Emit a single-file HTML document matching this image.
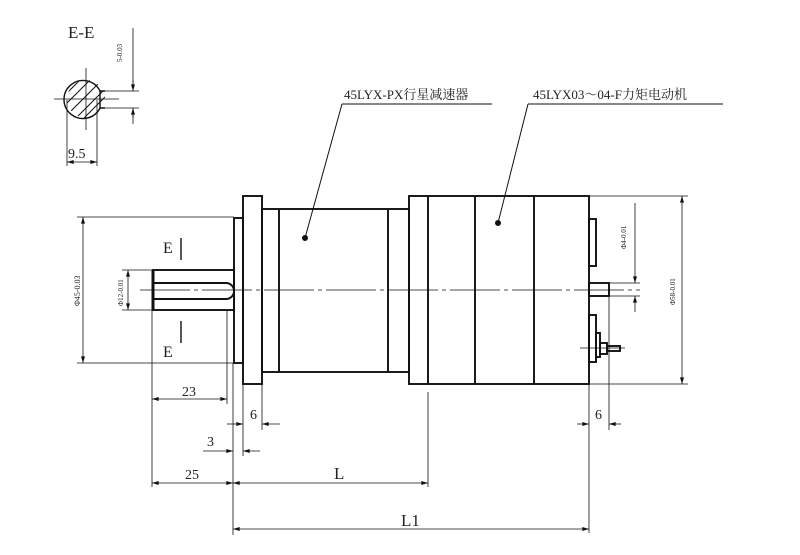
<!DOCTYPE html>
<html><head><meta charset="utf-8"><style>
html,body{margin:0;padding:0;background:#fff;width:800px;height:555px;overflow:hidden}
svg{display:block}
text{font-family:"Liberation Serif","Noto Serif CJK SC","Noto Sans CJK SC",serif;fill:#222}
</style></head><body>
<svg width="800" height="555" viewBox="0 0 800 555" xmlns="http://www.w3.org/2000/svg">
<defs>
<marker id="a" viewBox="0 0 10 6" refX="10" refY="3" markerWidth="8" markerHeight="4" orient="auto-start-reverse" markerUnits="userSpaceOnUse"><path d="M0,0L10,3L0,6z" fill="#111"/></marker>
<clipPath id="cc"><circle cx="86" cy="99" r="19"/></clipPath>
</defs>
<g stroke="#111" fill="none">
<text x="68" y="38" font-size="17" stroke="none">E-E</text>
<g clip-path="url(#cc)" stroke-width="1">
<path d="M60,110L90,80M64,118L100,82M70,124L106,88M60,100L85,75M76,126L110,92"/>
</g>
<path d="M100,108 A19,19 0 1 1 100,91" stroke-width="1.4"/>
<path d="M100,91H105M100,108H105M100,91V108" stroke-width="1.4"/>
<path d="M54,99H119M86,68V130" stroke-width="0.8"/>
<path d="M102,91H139M102,108H139" stroke-width="0.8"/>
<path d="M133,28V91M133,108V124" stroke-width="0.8"/>
<path d="M133,80V91" marker-end="url(#a)" stroke-width="0.8"/>
<path d="M133,118V108" marker-end="url(#a)" stroke-width="0.8"/>
<text x="0" y="0" font-size="7" stroke="none" transform="translate(122,62) rotate(-90)">5-0.03</text>
<path d="M67,100V166M97,100V166" stroke-width="0.8"/>
<path d="M67,162H97" marker-start="url(#a)" marker-end="url(#a)" stroke-width="0.8"/>
<text x="68" y="158" font-size="14" stroke="none">9.5</text>

<text x="344" y="99" font-size="13" stroke="none">45LYX-PX行星减速器</text>
<path d="M342,104H492M342,104L305,238" stroke-width="1"/>
<circle cx="305" cy="238" r="2.5" fill="#111"/>
<text x="533" y="99" font-size="13" stroke="none">45LYX03～04-F力矩电动机</text>
<path d="M528,104H723M528,104L498,223" stroke-width="1"/>
<circle cx="498" cy="223" r="2.5" fill="#111"/>

<g stroke-width="1.9">
<rect x="234" y="218" width="9" height="145"/>
<rect x="243" y="196" width="19" height="188"/>
<rect x="262" y="209" width="147" height="163"/>
<path d="M279,209V372M388,209V372"/>
<rect x="409" y="196" width="180" height="188"/>
<path d="M428,196V384M475,196V384M534,196V384"/>
<rect x="589" y="219" width="7" height="47"/>
<rect x="589" y="315" width="7" height="47"/>
<rect x="589" y="283" width="20" height="13"/>
<rect x="596" y="333" width="4" height="24"/>
<rect x="600" y="343" width="7" height="11"/>
<rect x="607" y="346" width="13" height="5"/>
<rect x="153" y="270" width="81" height="40"/>
<path d="M153,283H226A8,8 0 0 1 226,299H153"/>
</g>
<path d="M153,270V310" stroke-width="3"/>
<path d="M140,290H640" stroke-width="0.8" stroke-dasharray="50,4,4,4"/>
<path d="M580,348H625" stroke-width="0.8"/>

<text x="163" y="253" font-size="16" stroke="none">E</text>
<path d="M181,238V260M181,321V343" stroke-width="1.4"/>
<text x="163" y="357" font-size="16" stroke="none">E</text>

<g stroke-width="0.8">
<path d="M77,217H234M77,363H234"/>
<path d="M83,217V363" marker-start="url(#a)" marker-end="url(#a)"/>
<path d="M122,270H153M122,310H153"/>
<path d="M128,270V310" marker-start="url(#a)" marker-end="url(#a)"/>
<path d="M589,196H688M589,384H688"/>
<path d="M682,196V384" marker-start="url(#a)" marker-end="url(#a)"/>
<path d="M609,283H640M609,296H640"/>
<path d="M635,203V283" marker-end="url(#a)"/>
<path d="M635,312V296" marker-end="url(#a)"/>
</g>
<text font-size="8" stroke="none" transform="translate(80,306) rotate(-90)">Φ45-0.03</text>
<text font-size="7" stroke="none" transform="translate(123,306) rotate(-90)">Φ12-0.01</text>
<text font-size="7" stroke="none" transform="translate(626,249) rotate(-90)">Φ4-0.01</text>
<text font-size="7" stroke="none" transform="translate(675,305) rotate(-90)">Φ58-0.01</text>

<g stroke-width="0.8">
<path d="M152,310V487M227,310V404M233,363V535M243,384V456M262,384V430M428,392V487M589,384V533M609,296V430"/>
<path d="M152,399H227" marker-start="url(#a)" marker-end="url(#a)"/>
<path d="M227,424H243" marker-end="url(#a)"/><path d="M280,424H262" marker-end="url(#a)"/>
<path d="M203,451H233" marker-end="url(#a)"/><path d="M260,451H243" marker-end="url(#a)"/>
<path d="M152,483H233" marker-start="url(#a)" marker-end="url(#a)"/>
<path d="M233,483H428" marker-start="url(#a)" marker-end="url(#a)"/>
<path d="M233,529H589" marker-start="url(#a)" marker-end="url(#a)"/>
<path d="M577,424H589" marker-end="url(#a)"/><path d="M621,424H609" marker-end="url(#a)"/>
</g>
<text x="182" y="396" font-size="14" stroke="none">23</text>
<text x="250" y="419" font-size="14" stroke="none">6</text>
<text x="207" y="446" font-size="14" stroke="none">3</text>
<text x="185" y="479" font-size="14" stroke="none">25</text>
<text x="334" y="479" font-size="17" stroke="none">L</text>
<text x="401" y="526" font-size="17" stroke="none">L1</text>
<text x="595" y="419" font-size="14" stroke="none">6</text>
</g>
</svg>
</body></html>
